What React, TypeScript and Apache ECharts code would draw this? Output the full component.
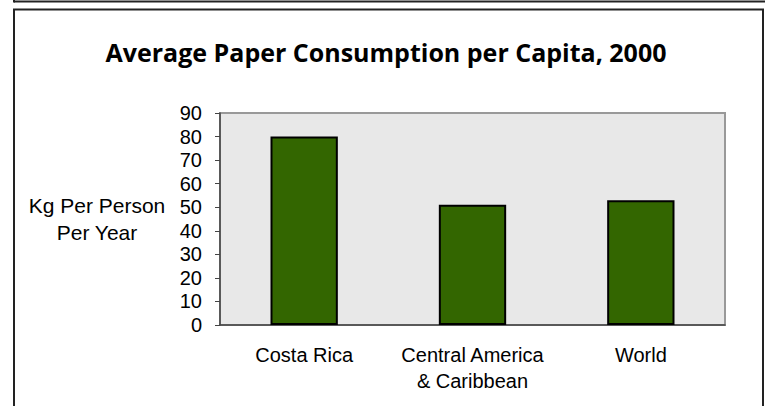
import React, { useEffect, useRef } from "react";
import * as echarts from "echarts";

const categories = ["Costa Rica", "Central America\n& Caribbean", "World"];
const values = [80, 51, 53];
const yMin = 0;
const yMax = 90;
const yInterval = 10;
const titleText = "Average Paper Consumption per Capita, 2000";
const yAxisTitle = "Kg Per Person\nPer Year";

export default function App() {
  const ref = useRef<HTMLDivElement>(null);
  useEffect(() => {
    if (!ref.current) return;
    const chart = echarts.init(ref.current, null, { renderer: "svg" });
    const font = "Liberation Sans, Arial, sans-serif";
    chart.setOption({
      animation: false,
      backgroundColor: "#ffffff",
      grid: {
        left: 220,
        top: 113,
        right: 40,
        bottom: 81,
        show: true,
        backgroundColor: "#e8e8e8",
        borderColor: "#999999",
        borderWidth: 2,
      },
      xAxis: {
        type: "category",
        data: categories,
        axisLine: { show: true, lineStyle: { color: "#444444", width: 1.5 } },
        axisTick: { show: false },
        axisLabel: {
          interval: 0,
          color: "#000000",
          fontFamily: font,
          fontSize: 20,
          lineHeight: 26,
          margin: 17,
        },
      },
      yAxis: {
        type: "value",
        min: yMin,
        max: yMax,
        interval: yInterval,
        splitLine: { show: false },
        axisLine: { show: true, lineStyle: { color: "#444444", width: 1.5 } },
        axisTick: { show: true, length: 5, lineStyle: { color: "#444444" } },
        axisLabel: {
          color: "#000000",
          fontFamily: font,
          fontSize: 20,
          margin: 18,
        },
      },
      series: [
        {
          type: "bar",
          data: values,
          barWidth: "40%",
          itemStyle: {
            color: "#336600",
            borderColor: "#000000",
            borderWidth: 2,
          },
        },
      ],
      graphic: [
        {
          type: "line",
          shape: { x1: 14, y1: 1.5, x2: 770, y2: 1.5 },
          style: { stroke: "#222222", lineWidth: 2 },
        },
        {
          type: "line",
          shape: { x1: 14, y1: 0, x2: 14, y2: 2.5 },
          style: { stroke: "#222222", lineWidth: 2 },
        },
        {
          type: "rect",
          shape: { x: 14, y: 9.5, width: 749, height: 420 },
          style: { fill: "none", stroke: "#222222", lineWidth: 2 },
        },
        {
          type: "text",
          x: 386,
          y: 52,
          style: {
            text: titleText,
            fontFamily: "Open Sans, sans-serif",
            fontWeight: "bold",
            fontSize: 25,
            fill: "#000000",
            align: "center",
            verticalAlign: "middle",
          },
        },
        {
          type: "text",
          x: 97,
          y: 219,
          style: {
            text: yAxisTitle,
            fontFamily: font,
            fontSize: 21,
            lineHeight: 27,
            fill: "#000000",
            align: "center",
            verticalAlign: "middle",
          },
        },
      ],
    });
    return () => chart.dispose();
  }, []);
  return (
    <div
      ref={ref}
      style={{ position: "fixed", left: 0, top: 0, width: 765, height: 406 }}
    />
  );
}
